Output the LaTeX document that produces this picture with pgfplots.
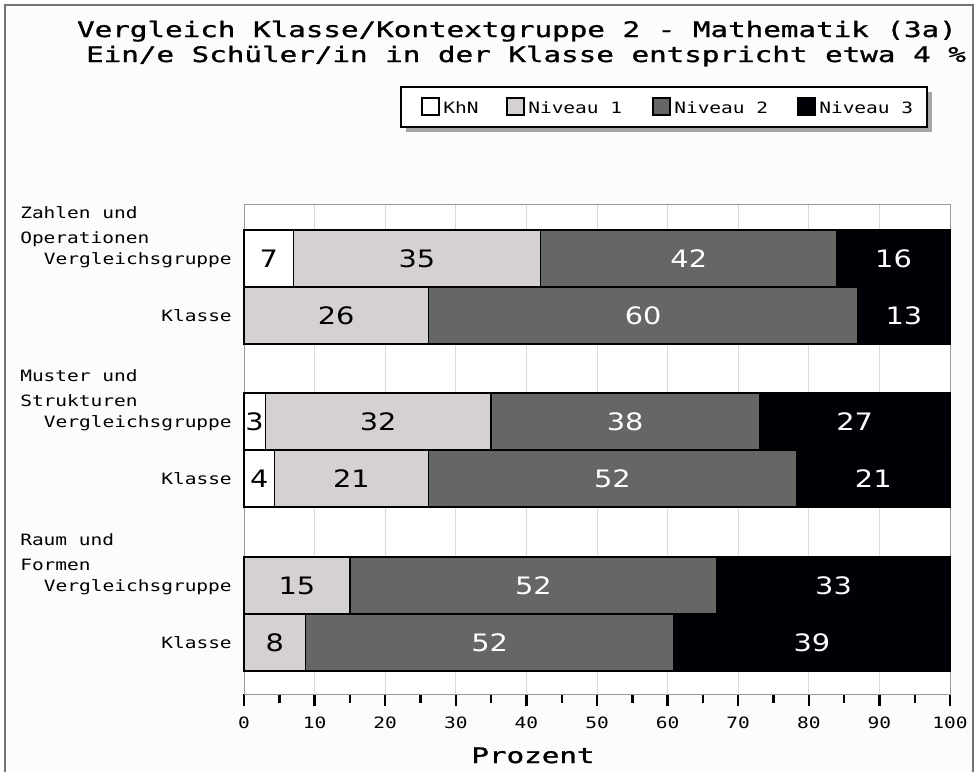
\documentclass[border=0pt]{standalone}
\usepackage{fontspec}
\usepackage{pgfplots}
\usepackage{pgfplotstable}
\pgfplotsset{compat=1.18}
\newfontfamily\monofam[FakeStretch=1.25]{DejaVu Sans Mono}
\newfontfamily\titlefam[FakeStretch=1.37,FakeBold=1.2]{DejaVu Sans Mono}
\newfontfamily\barfam[FakeStretch=1.2]{DejaVu Sans}
\newcommand\tickfont{\monofam\fontsize{11.7pt}{13pt}\selectfont}
\newcommand\titlefont{\titlefam\fontsize{16pt}{19pt}\selectfont}
\newcommand\barfont{\barfam\fontsize{18pt}{20pt}\selectfont}
\definecolor{bgc}{RGB}{251,252,251}
\definecolor{nA}{RGB}{212,208,212}
\definecolor{nB}{RGB}{100,103,100}
\definecolor{nC}{RGB}{0,0,6}
\definecolor{gridc}{RGB}{218,218,218}

% y = vertical position of the bar; k,a,b,c = KhN, Niveau 1, 2, 3 (percent); lk..lc = printed labels
\pgfplotstableread{
y     k     a      b      c      lk  la  lb  lc
258.5 7     35     42     16     7   35  42  16
315.5 0     26.09  60.87  13.04  {}  26  60  13
421.5 3     32     38     27     3   32  38  27
478.5 4.35  21.74  52.17  21.74  4   21  52  21
585.5 0     15     52     33     {}  15  52  33
642.5 0     8.70   52.17  39.13  {}  8   52  39
}\data

\pgfplotsset{common/.style={
  at={(183pt,-520.5pt)}, anchor=south west,
  scale only axis, width=529.5pt, height=367.5pt,
  xmin=0, xmax=100, ymin=204, ymax=694, y dir=reverse},
  lab/.style={only marks, mark=none, nodes near coords, point meta=explicit symbolic,
    nodes near coords style={font=\barfont, anchor=center, inner sep=0pt, text=#1}}}

\begin{document}
\begin{tikzpicture}
\begin{scope}[x=0.75pt,y=-0.75pt]
\useasboundingbox (0,0) rectangle (977,776);
\fill[white] (0,0) rectangle (977,776);
\fill[bgc] (5,5) rectangle (973,772);
\draw[black!55, line width=1.2pt] (5,772) -- (5,5) -- (973,5) -- (973,772);
% title
\node[anchor=base, inner sep=0pt, font=\titlefont] at (517,37) {Vergleich Klasse/Kontextgruppe 2 - Mathematik (3a)};
\node[anchor=base, inner sep=0pt, font=\titlefont] at (526,62) {Ein/e Schüler/in in der Klasse entspricht etwa 4 \%};
% legend
\fill[black!35] (406,92) rectangle (932,132);
\filldraw[fill=white, draw=black, line width=1.2pt] (401,87) rectangle (927,127);
\filldraw[fill=white, draw=black, line width=0.8pt] (422,98) rectangle (439,115);
\filldraw[fill=nA, draw=black, line width=0.8pt] (507,98) rectangle (524,115);
\filldraw[fill=nB, draw=black, line width=0.8pt] (653,98) rectangle (670,115);
\filldraw[fill=nC, draw=black, line width=0.8pt] (798,98) rectangle (815,115);
\node[anchor=base west, inner sep=0pt, font=\tickfont] at (443,113) {KhN};
\node[anchor=base west, inner sep=0pt, font=\tickfont] at (528,113) {Niveau 1};
\node[anchor=base west, inner sep=0pt, font=\tickfont] at (674,113) {Niveau 2};
\node[anchor=base west, inner sep=0pt, font=\tickfont] at (819,113) {Niveau 3};
% group labels
\node[anchor=base west, inner sep=0pt, font=\tickfont] at (20,218.5) {Zahlen und};
\node[anchor=base west, inner sep=0pt, font=\tickfont] at (20,243.5) {Operationen};
\node[anchor=base west, inner sep=0pt, font=\tickfont] at (20,381.5) {Muster und};
\node[anchor=base west, inner sep=0pt, font=\tickfont] at (20,406.5) {Strukturen};
\node[anchor=base west, inner sep=0pt, font=\tickfont] at (20,545.5) {Raum und};
\node[anchor=base west, inner sep=0pt, font=\tickfont] at (20,570.5) {Formen};
% x label
\node[anchor=base, inner sep=0pt, font=\titlefont] at (533,763) {Prozent};
\end{scope}
\begin{axis}[
  common,
  xbar stacked, bar width=42.75pt,
  axis background/.style={fill=white},
  axis line style={draw=black!40, line width=0.75pt},
  xmajorgrids, grid style={draw=gridc, line width=0.75pt},
  xtick={0,10,...,100}, minor xtick={5,15,...,95},
  xtick pos=bottom, ytick pos=left,
  tick align=outside,
  major tick length=9pt, minor tick length=6.5pt,
  xtick style={draw=black, line width=1.8pt},
  minor tick style={draw=black, line width=1.8pt},
  ytick={258.5,315.5,421.5,478.5,585.5,642.5},
  yticklabels={Vergleichsgruppe,Klasse,Vergleichsgruppe,Klasse,Vergleichsgruppe,Klasse},
  ytick style={draw=none},
  /pgf/number format/assume math mode=true,
  xticklabel style={font=\tickfont, yshift=-5pt},
  yticklabel style={font=\tickfont, anchor=base east, inner sep=0pt, yshift=-4.5pt},
  clip=false,
]
\addplot[fill=white, draw=black, line width=1pt] table[x=k, y=y] {\data};
\addplot[fill=nA, draw=black, line width=1pt] table[x=a, y=y] {\data};
\addplot[fill=nB, draw=black, line width=1pt] table[x=b, y=y] {\data};
\addplot[fill=nC, draw=black, line width=1pt] table[x=c, y=y] {\data};
\end{axis}
% value labels, centred in each segment
\begin{axis}[common, hide axis, clip=false]
\addplot[lab=black] table[x expr=\thisrow{k}/2, y=y, meta=lk] {\data};
\addplot[lab=black] table[x expr=\thisrow{k}+\thisrow{a}/2, y=y, meta=la] {\data};
\addplot[lab=white] table[x expr=\thisrow{k}+\thisrow{a}+\thisrow{b}/2, y=y, meta=lb] {\data};
\addplot[lab=white] table[x expr=\thisrow{k}+\thisrow{a}+\thisrow{b}+\thisrow{c}/2, y=y, meta=lc] {\data};
\end{axis}
\end{tikzpicture}
\end{document}
